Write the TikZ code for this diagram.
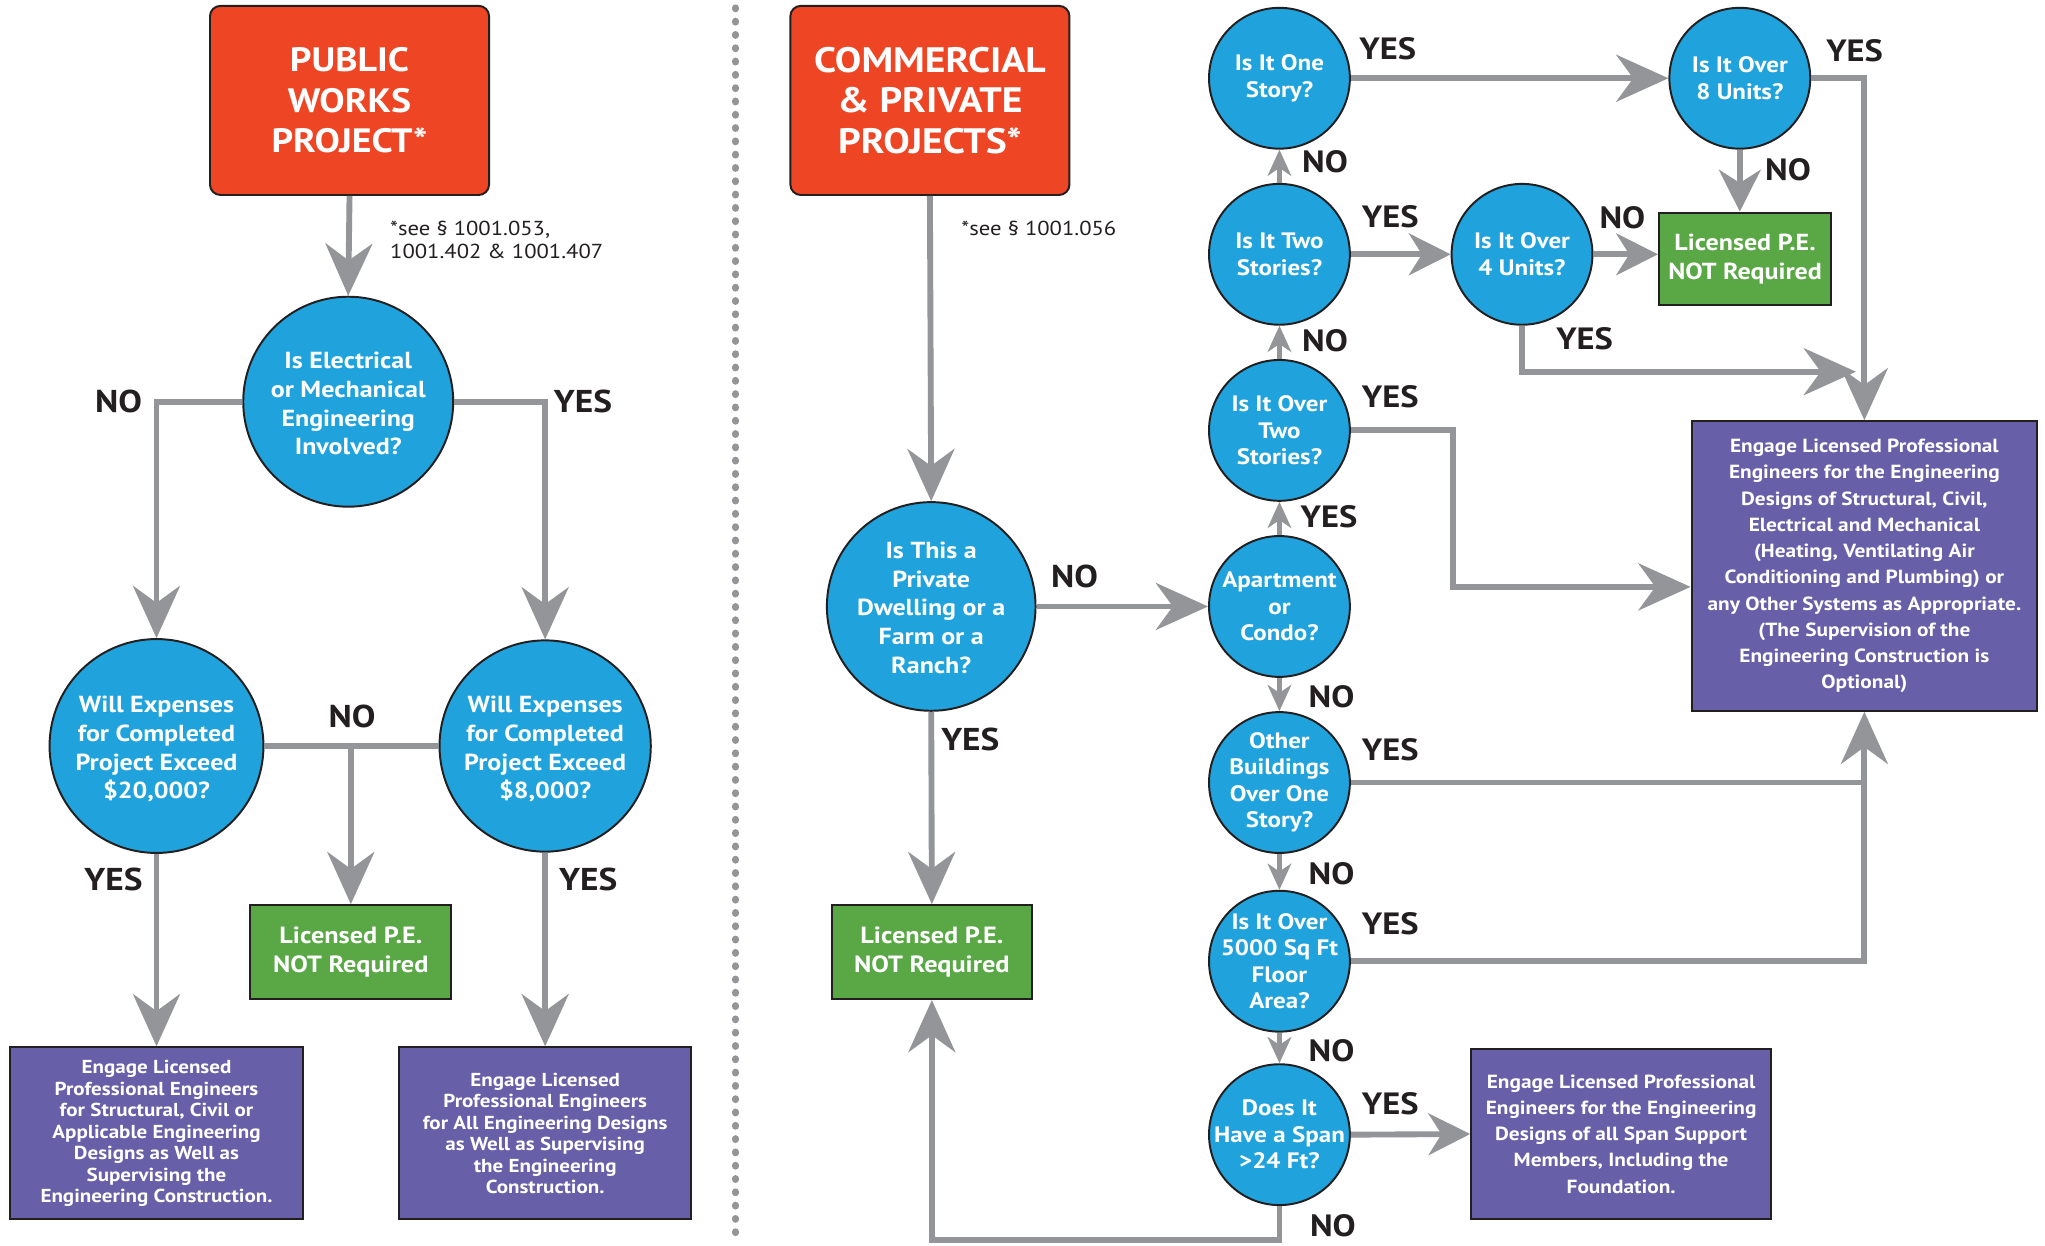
\documentclass[tikz,border=0pt]{standalone}
\usepackage{fontspec}
\setmainfont{PT Sans}[FakeStretch=1.12]
\usetikzlibrary{arrows.meta,shapes.geometric,calc}
\definecolor{redc}{HTML}{EE4524}
\definecolor{qblue}{HTML}{20A3DC}
\definecolor{greenc}{HTML}{5AA746}
\definecolor{purc}{HTML}{675FA8}
\definecolor{agray}{HTML}{939598}
\definecolor{outl}{HTML}{231F20}
\definecolor{dotg}{HTML}{939598}
\newcommand\fRedW{\bfseries\fontsize{27.1}{31}\selectfont}
\newcommand\fRedC{\bfseries\fontsize{25.9}{31}\selectfont}
\newcommand\fQW{\bfseries\fontsize{17.8}{22}\selectfont}
\newcommand\fQC{\bfseries\fontsize{17.1}{20.3}\selectfont}
\newcommand\fGW{\bfseries\fontsize{18}{22}\selectfont}
\newcommand\fGC{\bfseries\fontsize{17.8}{22}\selectfont}
\newcommand\fPW{\bfseries\fontsize{14.4}{16.5}\selectfont}
\newcommand\fPC{\bfseries\fontsize{14.6}{20.1}\selectfont}
\newcommand\fLW{\bfseries\fontsize{24.2}{24}\selectfont}
\newcommand\fLC{\bfseries\fontsize{23.6}{24}\selectfont}
\newcommand\fNote{\fontsize{15.5}{18}\selectfont}
\tikzset{
  ln/.style={draw=agray, line width=4.5pt},
  arrB/.style={ln, -{Stealth[length=40pt,width=36pt,inset=13pt]}},
  arrM/.style={ln, -{Stealth[length=32pt,width=32pt,inset=10pt]}},
  arrS/.style={ln, -{Stealth[length=20pt,width=18pt,inset=6pt]}},
  qnode/.style={ellipse, draw=outl, line width=1.5pt, fill=qblue,
    inner sep=0pt, minimum width=#1, minimum height=#1},
  qtext/.style={text=white, align=center, inner sep=0pt},
  redbox/.style={rectangle, rounded corners=8pt, draw=outl, line width=1.5pt,
    fill=redc, text=white, align=center, inner sep=0pt,
    minimum width=214pt, minimum height=145pt},
  greenbox/.style={rectangle, draw=outl, line width=1.5pt, fill=greenc,
    text=white, align=center, inner sep=0pt},
  purbox/.style={rectangle, draw=outl, line width=1.5pt, fill=purc,
    text=white, align=center, inner sep=0pt},
  labw/.style={text=outl, inner sep=0pt, font=\fLW},
  labc/.style={text=outl, inner sep=0pt, font=\fLC},
  note/.style={text=outl, inner sep=0pt, align=left, font=\fNote},
}
\begin{document}
\begin{tikzpicture}[x=1pt,y=-1pt]
\useasboundingbox (0,0) rectangle (1568,955);
\fill[white] (0,0) rectangle (1568,955);

% ---------- left half ----------
\node[redbox, font=\fRedC] (pub) at (268,77) {PUBLIC\\WORKS\\PROJECT*};
\node[note, anchor=west] (n1) at (299,184) {*see § 1001.053,\\1001.402 \& 1001.407};
\node[qnode=161pt, label={[qtext, font=\fQW, yshift=-1.5pt]center:{Is Electrical\\or Mechanical\\Engineering\\Involved?}}] (elec) at (267,308) {};
\node[qnode=164pt, label={[qtext, font=\fQW, yshift=-2.5pt]center:{Will Expenses\\for Completed\\Project Exceed\\\$20,000?}}] (w20) at (120,572) {};
\node[qnode=162pt, label={[qtext, font=\fQW, yshift=-2.5pt]center:{Will Expenses\\for Completed\\Project Exceed\\\$8,000?}}] (w8) at (418,572) {};
\node[greenbox, minimum width=154pt, minimum height=72pt, font=\fGW] (g1) at (269,730)
  {Licensed P.E.\\NOT Required};
\node[purbox, minimum width=224pt, minimum height=132pt, font=\fPW] (p1) at (120,869)
  {Engage Licensed\\Professional Engineers\\for Structural, Civil or\\Applicable Engineering\\Designs as Well as\\Supervising the\\Engineering Construction.};
\node[purbox, minimum width=224pt, minimum height=132pt, font=\fPW] (p2) at (418,869)
  {Engage Licensed\\Professional Engineers\\for All Engineering Designs\\as Well as Supervising\\the Engineering\\Construction.};

\draw[arrB] (pub.south) -- (elec.north);
\draw[arrB] (elec.west) -| (w20.north);
\draw[arrB] (elec.east) -| (w8.north);
\draw[ln] (w20.east) -- (w8.west);
\draw[arrB] (g1.north |- w20.east) -- (g1.north);
\draw[arrB] (w20.south) -- (w20.south |- p1.north);
\draw[arrB] (w8.south) -- (w8.south |- p2.north);

\node[labw] (l1) at (91,308) {NO};
\node[labw] (l2) at (447,308) {YES};
\node[labw] (l3) at (270,549) {NO};
\node[labw] (l4) at (87,674) {YES};
\node[labw] (l5) at (451,674) {YES};

% divider
\draw[dotg, line width=5.2pt, line cap=round, dash pattern=on 0.8pt off 9.4pt] (564,6) -- (564,952);

% ---------- right half ----------
\node[redbox, font=\fRedW] (com) at (713,77) {COMMERCIAL\\\& PRIVATE\\PROJECTS*};
\node[note, anchor=west] (n2) at (737,175) {*see § 1001.056};
\node[qnode=160pt, label={[qtext, font=\fQW, yshift=-1pt]center:{Is This a\\Private\\Dwelling or a\\Farm or a\\Ranch?}}] (priv) at (714,465) {};
\node[greenbox, minimum width=153pt, minimum height=72pt, font=\fGW] (g2) at (714.5,730)
  {Licensed P.E.\\NOT Required};

\foreach \n/\y/\t in {c1/60/{Is It One\\Story?}, c2/195/{Is It Two\\Stories?},
  c3/330/{Is It Over\\Two\\Stories?}, c4/465/{Apartment\\or\\Condo?},
  c5/600/{Other\\Buildings\\Over One\\Story?}, c6/737/{Is It Over\\5000 Sq Ft\\Floor\\Area?},
  c7/870/{Does It\\Have a Span\\>24 Ft?}}
  \node[qnode=108pt, label={[qtext, font=\fQC]center:{\t}}] (\n) at (981,\y) {};
\node[qnode=108pt, label={[qtext, font=\fQC]center:{Is It Over\\4 Units?}}] (u4) at (1167,195) {};
\node[qnode=108pt, label={[qtext, font=\fQC]center:{Is It Over\\8 Units?}}] (u8) at (1334,60) {};
\node[greenbox, minimum width=132pt, minimum height=71pt, font=\fGC] (g3) at (1338,198.5)
  {Licensed P.E.\\NOT Required};
\node[purbox, minimum width=265pt, minimum height=222pt, font=\fPC] (big) at (1429.5,434)
  {Engage Licensed Professional\\Engineers for the Engineering\\Designs of Structural, Civil,\\Electrical and Mechanical\\(Heating, Ventilating Air\\Conditioning and Plumbing) or\\any Other Systems as Appropriate.\\(The Supervision of the\\Engineering Construction is\\Optional)};
\node[purbox, minimum width=230pt, minimum height=131pt, font=\fPC] (span) at (1243,869.5)
  {Engage Licensed Professional\\Engineers for the Engineering\\Designs of all Span Support\\Members, Including the\\Foundation.};

\coordinate (j4) at (1423,285);
\draw[arrB] (com.south) -- (priv.north);
\draw[arrB] (priv.east) -- (c4.west);
\draw[arrB] (priv.south) -- (g2.north);
\draw[arrB] (c7.south) -- ++(0,26) -| (g2.south);

\draw[arrS] (c2.north) -- (c1.south);
\draw[arrS] (c3.north) -- (c2.south);
\draw[arrS] (c4.north) -- (c3.south);
\draw[arrS] (c4.south) -- (c5.north);
\draw[arrS] (c5.south) -- (c6.north);
\draw[arrS] (c6.south) -- (c7.north);

\draw[arrB] (c1.east) -- (u8.west);
\draw[arrB] (u8.east) -| (big.north);
\draw[arrM] (u8.south) -- (u8.south |- g3.north);
\draw[arrM] (c2.east) -- (u4.west);
\draw[arrM] (u4.east) -- (u4.east -| g3.west);
\draw[arrB] (u4.south) |- (j4);
\draw[arrB] (c3.east) -- (1114,330) |- ($(big.west)+(0,16)$);
\draw[ln] (c5.east) -- (c5.east -| big.south);
\draw[arrB] (c6.east) -| (big.south);
\draw[arrM] (c7.east) -- (span.west);

\node[labw] (l6) at (824,442) {NO};
\node[labw] (l7) at (744,567) {YES};
\node[labc] (r1) at (1064,37) {YES};
\node[labc] (r2) at (1422,39) {YES};
\node[labc] (r3) at (1016,124) {NO};
\node[labc] (r4) at (1371,130) {NO};
\node[labc] (r5) at (1066,166) {YES};
\node[labc] (r6) at (1244,167) {NO};
\node[labc] (r7) at (1016,261) {NO};
\node[labc] (r8) at (1215,260) {YES};
\node[labc] (r9) at (1066,304) {YES};
\node[labc] (r10) at (1019,396) {YES};
\node[labc] (r11) at (1021,534) {NO};
\node[labc] (r12) at (1066,575) {YES};
\node[labc] (r13) at (1021,670) {NO};
\node[labc] (r14) at (1066,708) {YES};
\node[labc] (r15) at (1021,806) {NO};
\node[labc] (r16) at (1066,846) {YES};
\node[labc] (r17) at (1022,940) {NO};
\end{tikzpicture}
\end{document}
